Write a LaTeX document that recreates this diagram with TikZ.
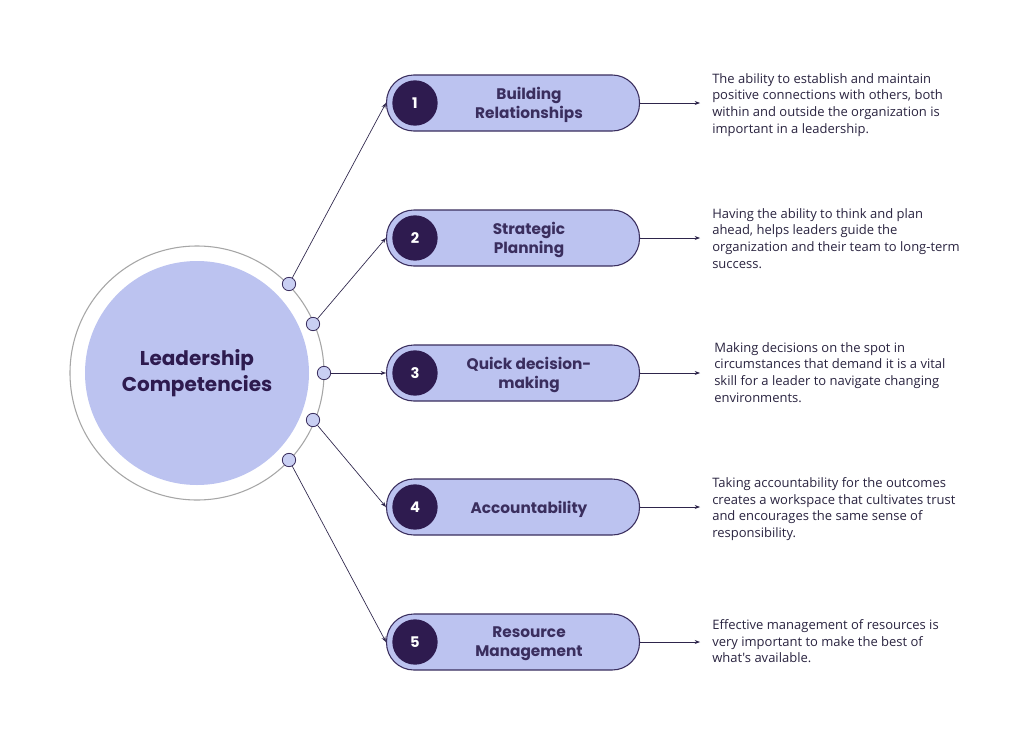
\documentclass[tikz,border=0pt]{standalone}
\usepackage{fontspec}
\setmainfont{Poppins}
\newfontfamily\descfont{Open Sans}
\usetikzlibrary{arrows.meta}
\definecolor{pillfill}{HTML}{BCC3F0}
\definecolor{dark}{HTML}{2E1B4F}
\definecolor{edge}{HTML}{3A2E5E}
\definecolor{ink}{HTML}{2A2440}
\tikzset{
 pill/.style={draw=edge,fill=pillfill,line width=0.8pt,rounded corners=20.5pt,minimum width=189.75pt,minimum height=42pt,inner sep=0},
 num/.style={circle,fill=dark,text=white,minimum size=34pt,inner sep=0,font=\bfseries\fontsize{11}{13}\selectfont},
 ttl/.style={text=edge,align=center,font=\bfseries\fontsize{11.5}{14.5}\selectfont},
 dot/.style={circle,draw=edge,fill=pillfill!80!white,line width=0.6pt,minimum size=10pt,inner sep=0},
 desc/.style={anchor=north west,align=left,inner sep=0,text=ink,font=\descfont\fontsize{9.75}{12.6}\selectfont},
 conn/.style={draw=edge!80!black,line width=0.5pt,-{Stealth[length=4pt,width=3pt]}}
}
\begin{document}
\begin{tikzpicture}[x=0.75pt,y=-0.75pt]
\useasboundingbox[fill=white] (0,0) rectangle (1024,746);
\draw[draw=gray!70,line width=0.8pt,fill=white] (197,373) circle (127);
\node[circle,fill=pillfill,minimum size=168pt,inner sep=0,text=dark,align=center,font=\bfseries\fontsize{15}{19.5}\selectfont] (main) at (197,373) {Leadership\\Competencies};
\foreach \i/\x/\y in {1/289/284,2/313/324,3/324/373,4/313/420,5/289/460}{
  \node[dot] (d\i) at (\x,\y) {};
}
\foreach \i/\y/\t in {1/103/{Building\\Relationships},2/238/{Strategic\\Planning},3/373/{Quick decision-\\making},4/507/{Accountability},5/642/{Resource\\Management}}{
  \node[pill] (p\i) at (513,\y) {};
  \node[num] (n\i) at (415,\y) {\i};
  \node[ttl] (t\i) at (529,\y+2) {\t};
  \coordinate (e\i) at (700,\y);
  \draw[conn] (d\i) -- (p\i.west);
  \draw[conn] (p\i.east) -- (e\i);
}
\node[desc] (x1) at (712,73) {The ability to establish and maintain\\positive connections with others, both\\within and outside the organization is\\important in a leadership.};
\node[desc] (x2) at (712,208) {Having the ability to think and plan\\ahead, helps leaders guide the\\organization and their team to long-term\\success.};
\node[desc] (x3) at (714,342) {Making decisions on the spot in\\circumstances that demand it is a vital\\skill for a leader to navigate changing\\environments.};
\node[desc] (x4) at (712,477) {Taking accountability for the outcomes\\creates a workspace that cultivates trust\\and encourages the same sense of\\responsibility.};
\node[desc] (x5) at (712,619) {Effective management of resources is\\very important to make the best of\\what's available.};
\end{tikzpicture}
\end{document}
